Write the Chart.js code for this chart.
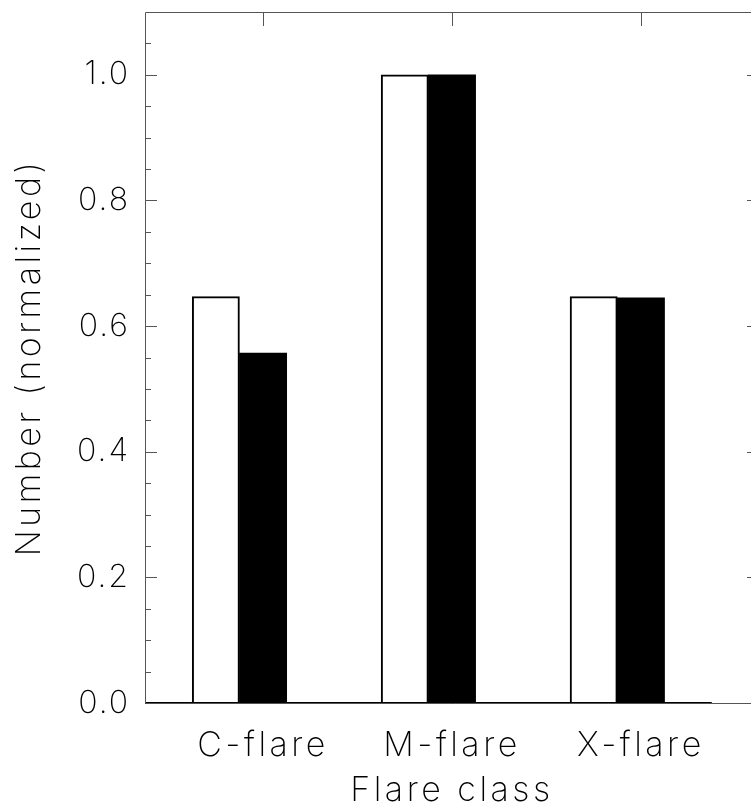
<!DOCTYPE html>
<html>
<head>
<meta charset="utf-8">
<script src="https://cdn.jsdelivr.net/npm/chart.js@4.4.1/dist/chart.umd.min.js"></script>
<style>
    html, body { margin: 0; padding: 0; background: #fff; overflow: hidden; }
    #wrap { width: 770px; height: 808px; }
</style>
</head>
<body>
<div id="wrap"><canvas id="chart" width="770" height="808"></canvas></div>
<script>
// Flare class histogram (normalized counts)
const categories = ['C-flare', 'M-flare', 'X-flare'];
const openValues = [0.647, 1.0, 0.647];   // white bars
const filledValues = [0.557, 1.0, 0.645]; // black bars
const yTicks = [0, 0.2, 0.4, 0.6, 0.8, 1.0];

// histogram bins: each class uses two bins, groups four bins apart
const binCount = 13;
const binLabels = [];
const openData = [];
const filledData = [];
for (let i = 0; i < binCount; i++) {
    binLabels.push('');
    openData.push(null);
    filledData.push(null);
}
categories.forEach((name, i) => {
    openData[1 + i * 4] = openValues[i];
    filledData[2 + i * 4] = filledValues[i];
    binLabels[2 + i * 4] = name;
});

const FONT = 'Inter, "DejaVu Sans", sans-serif';

// IDL-style box with inward ticks
const framePlugin = {
    id: 'frame',
    beforeDraw(chart) {
        chart.ctx.letterSpacing = '3.5px';
    },
    afterDatasetsDraw(chart) {
        const { ctx, chartArea: a, scales: { x, y } } = chart;
        const binW = x.getPixelForValue(1) - x.getPixelForValue(0);
        ctx.save();

        // histogram baseline
        ctx.strokeStyle = '#000';
        ctx.lineWidth = 2;
        ctx.beginPath();
        ctx.moveTo(a.left, a.bottom);
        ctx.lineTo(x.getPixelForValue(binCount - 2) + binW / 2, a.bottom);
        ctx.stroke();

        ctx.strokeStyle = '#555';
        ctx.lineWidth = 1;
        ctx.beginPath();
        ctx.rect(a.left + 0.5, a.top + 0.5, a.right - a.left, a.bottom - a.top);

        // y minor/major ticks on both sides
        for (let i = 1; i < 22; i++) {
            const py = Math.round(y.getPixelForValue(i * 0.05)) + 0.5;
            const len = i % 4 === 0 ? 12 : 6;
            ctx.moveTo(a.left, py);
            ctx.lineTo(a.left + len, py);
            ctx.moveTo(a.right, py);
            ctx.lineTo(a.right - len, py);
        }
        // top ticks at the labelled bins
        binLabels.forEach((lab, i) => {
            if (!lab) return;
            const px = Math.round(x.getPixelForValue(i)) + 0.5;
            ctx.moveTo(px, a.top);
            ctx.lineTo(px, a.top + 14);
        });
        ctx.stroke();
        ctx.restore();
    }
};

const ctx = document.getElementById('chart').getContext('2d');
new Chart(ctx, {
    type: 'bar',
    data: {
        labels: binLabels,
        datasets: [
            {
                label: 'open',
                data: openData,
                backgroundColor: '#fff',
                borderColor: '#000',
                borderWidth: 2,
                borderSkipped: 'start'
            },
            {
                label: 'filled',
                data: filledData,
                backgroundColor: '#000',
                borderColor: '#000',
                borderWidth: 0
            }
        ]
    },
    options: {
        responsive: false,
        animation: false,
        devicePixelRatio: 1,
        grouped: false,
        barPercentage: 1,
        categoryPercentage: 1,
        layout: {
            padding: { top: 12, right: 11, left: 0, bottom: 0 }
        },
        scales: {
            x: {
                type: 'category',
                grid: { display: false, drawTicks: false },
                border: { display: false },
                ticks: {
                    autoSkip: false,
                    maxRotation: 0,
                    padding: 22,
                    color: '#000',
                    font: { family: FONT, size: 34, weight: 200 }
                },
                title: {
                    display: true,
                    text: 'Flare class',
                    color: '#000',
                    padding: { top: 0, bottom: 0 },
                    font: { family: FONT, size: 34, weight: 200, lineHeight: 1 }
                },
                afterFit(scale) {
                    scale.height = 105;
                    scale.paddingLeft = 0;
                    scale.paddingRight = 0;
                }
            },
            y: {
                type: 'linear',
                min: 0,
                max: 1.1,
                grid: { display: false, drawTicks: false },
                border: { display: false },
                afterBuildTicks(scale) {
                    scale.ticks = yTicks.map(v => ({ value: v }));
                },
                ticks: {
                    padding: 15,
                    color: '#000',
                    font: { family: FONT, size: 32, weight: 200 },
                    callback: v => Number(v).toFixed(1)
                },
                title: {
                    display: true,
                    text: 'Number (normalized)',
                    color: '#000',
                    padding: { top: 13, bottom: 0 },
                    font: { family: FONT, size: 34, weight: 200, lineHeight: 1 }
                },
                afterFit(scale) {
                    scale.width = 145;
                    scale.paddingTop = 0;
                    scale.paddingBottom = 0;
                },
                afterUpdate(scale) {
                    if (scale._noSpacing) return;
                    scale._noSpacing = true;
                    const orig = scale.drawLabels.bind(scale);
                    scale.drawLabels = function (area) {
                        const c = scale.ctx;
                        const prev = c.letterSpacing;
                        c.letterSpacing = '2px';
                        orig(area);
                        c.letterSpacing = prev;
                    };
                }
            }
        },
        plugins: {
            legend: { display: false },
            tooltip: { enabled: false }
        }
    },
    plugins: [framePlugin]
});
</script>
</body>
</html>
